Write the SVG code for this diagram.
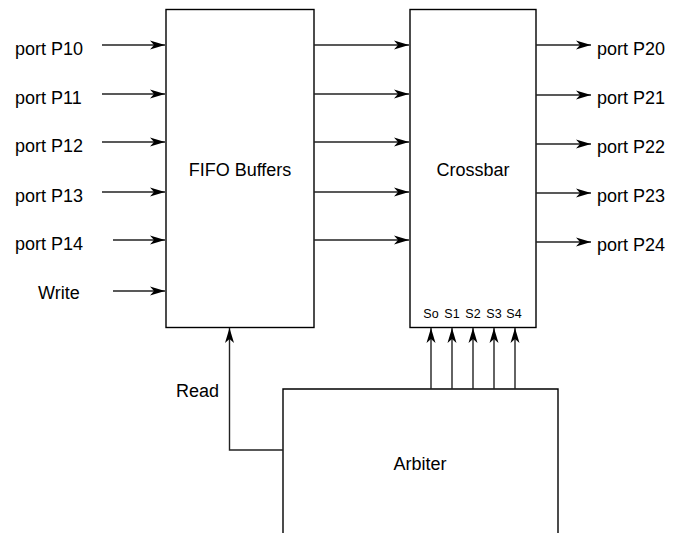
<svg xmlns="http://www.w3.org/2000/svg" width="685" height="533" viewBox="0 0 685 533">
<style>
  .box{fill:#fff;stroke:#000;stroke-width:1.4}
  .lbl{font-family:"Liberation Sans",Arial,sans-serif;font-size:18px;fill:#000}
  .sm{font-family:"Liberation Sans",Arial,sans-serif;font-size:12.5px;fill:#000;text-anchor:middle}
  .mid{text-anchor:middle}
  .conn path,.conn line{fill:none;stroke:#222;stroke-width:1.4}
</style>
<defs>
  <marker id="arr" markerUnits="userSpaceOnUse" markerWidth="20" markerHeight="12" viewBox="-16 -6 17 12" refX="0" refY="0" orient="auto">
    <path d="M0,0 L-15,-4.5 L-11,0 L-15,4.5 Z" fill="#000"/>
  </marker>
</defs>
<g id="fifo">
  <rect class="box" x="166" y="9.5" width="148" height="318"/>
  <text class="lbl mid" x="240" y="176">FIFO Buffers</text>
</g>
<g id="crossbar">
  <rect class="box" x="410" y="9.5" width="126" height="318"/>
  <text class="lbl mid" x="473" y="176">Crossbar</text>
  <text class="sm" x="431" y="318">So</text>
  <text class="sm" x="452" y="318">S1</text>
  <text class="sm" x="473" y="318">S2</text>
  <text class="sm" x="494" y="318">S3</text>
  <text class="sm" x="514" y="318">S4</text>
</g>
<g id="arbiter">
  <path class="box" d="M283,540 L283,389 L558,389 L558,540"/>
  <text class="lbl mid" x="420" y="470">Arbiter</text>
</g>
<g id="labels">
  <text class="lbl" x="15" y="55">port P10</text>
  <text class="lbl" x="15" y="103.5">port P11</text>
  <text class="lbl" x="15" y="151.5">port P12</text>
  <text class="lbl" x="15" y="201.5">port P13</text>
  <text class="lbl" x="15" y="250">port P14</text>
  <text class="lbl" x="38" y="298.5">Write</text>
  <text class="lbl" x="597" y="54.5">port P20</text>
  <text class="lbl" x="597" y="103.5">port P21</text>
  <text class="lbl" x="597" y="152.5">port P22</text>
  <text class="lbl" x="597" y="201.5">port P23</text>
  <text class="lbl" x="597" y="250.5">port P24</text>
  <text class="lbl" x="176" y="397">Read</text>
</g>
<g class="conn" id="connectors">
  <line x1="102" y1="45" x2="165" y2="45" marker-end="url(#arr)"/>
  <line x1="102" y1="94" x2="165" y2="94" marker-end="url(#arr)"/>
  <line x1="102" y1="142" x2="165" y2="142" marker-end="url(#arr)"/>
  <line x1="102" y1="192" x2="165" y2="192" marker-end="url(#arr)"/>
  <line x1="113" y1="240" x2="165" y2="240" marker-end="url(#arr)"/>
  <line x1="113" y1="291" x2="165" y2="291" marker-end="url(#arr)"/>
  <line x1="314" y1="45" x2="409" y2="45" marker-end="url(#arr)"/>
  <line x1="314" y1="94" x2="409" y2="94" marker-end="url(#arr)"/>
  <line x1="314" y1="142" x2="409" y2="142" marker-end="url(#arr)"/>
  <line x1="314" y1="192" x2="409" y2="192" marker-end="url(#arr)"/>
  <line x1="314" y1="240" x2="409" y2="240" marker-end="url(#arr)"/>
  <line x1="536" y1="45" x2="591" y2="45" marker-end="url(#arr)"/>
  <line x1="536" y1="95" x2="591" y2="95" marker-end="url(#arr)"/>
  <line x1="536" y1="144" x2="591" y2="144" marker-end="url(#arr)"/>
  <line x1="536" y1="193" x2="591" y2="193" marker-end="url(#arr)"/>
  <line x1="536" y1="242" x2="591" y2="242" marker-end="url(#arr)"/>
  <line x1="431" y1="389" x2="431" y2="328" marker-end="url(#arr)"/>
  <line x1="452" y1="389" x2="452" y2="328" marker-end="url(#arr)"/>
  <line x1="473" y1="389" x2="473" y2="328" marker-end="url(#arr)"/>
  <line x1="494" y1="389" x2="494" y2="328" marker-end="url(#arr)"/>
  <line x1="515" y1="389" x2="515" y2="328" marker-end="url(#arr)"/>
  <path d="M283,450 L229.5,450 L229.5,328" marker-end="url(#arr)"/>
</g>
</svg>
